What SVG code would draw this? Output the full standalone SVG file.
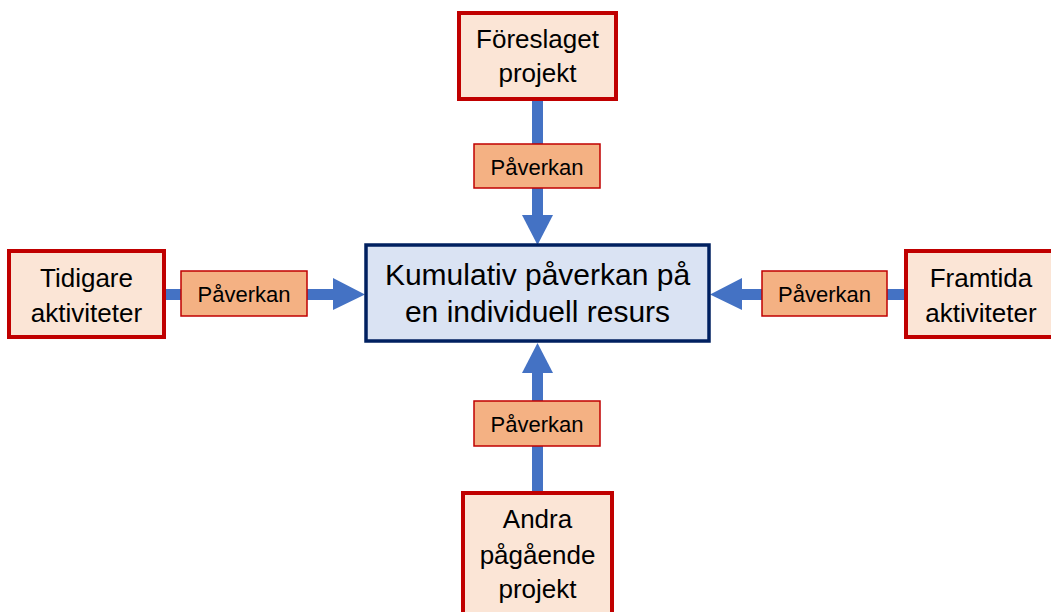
<svg xmlns="http://www.w3.org/2000/svg" width="1051" height="612" viewBox="0 0 1051 612">
  <style>
    .src rect { fill: #FBE5D6; stroke: #C00000; stroke-width: 4; }
    .lbl rect { fill: #F4B183; stroke: #C00000; stroke-width: 1.5; }
    .hub rect { fill: #DAE3F3; stroke: #002060; stroke-width: 3.5; }
    text { font-family: "Liberation Sans", Arial, sans-serif; fill: #000; text-anchor: middle; }
    .src text { font-size: 26px; }
    .lbl text { font-size: 22px; }
    .hub text { font-size: 30px; }
    .shaft { stroke: #4472C4; stroke-width: 11; fill: none; }
    .head { fill: #4472C4; }
  </style>
  <rect width="1051" height="612" fill="#fff"/>

  <!-- connectors: thick blue shafts with arrowheads into the central box -->
  <g id="connectors">
    <line class="shaft" x1="537.5" y1="100" x2="537.5" y2="216"/>
    <polygon class="head" points="522,215 553,215 537.5,245"/>
    <line class="shaft" x1="537.5" y1="492" x2="537.5" y2="372"/>
    <polygon class="head" points="522,373 553,373 537.5,343"/>
    <line class="shaft" x1="165" y1="294.5" x2="334" y2="294.5"/>
    <polygon class="head" points="333,278 333,310 365,294.5"/>
    <line class="shaft" x1="906" y1="294.5" x2="741" y2="294.5"/>
    <polygon class="head" points="742,278 742,310 710,294.5"/>
  </g>

  <g id="hub" class="hub">
    <rect x="366" y="245" width="343" height="96"/>
    <text x="537.5" y="285">Kumulativ påverkan på</text>
    <text x="537.5" y="322">en individuell resurs</text>
  </g>

  <g id="node-top" class="src">
    <rect x="459" y="13" width="157" height="86"/>
    <text x="537.5" y="48">Föreslaget</text>
    <text x="537.5" y="82">projekt</text>
  </g>
  <g id="node-left" class="src">
    <rect x="9" y="251" width="155" height="86"/>
    <text x="86.5" y="287">Tidigare</text>
    <text x="86.5" y="322">aktiviteter</text>
  </g>
  <g id="node-right" class="src">
    <rect x="906" y="251" width="152" height="86"/>
    <text x="981" y="287">Framtida</text>
    <text x="981" y="322">aktiviteter</text>
  </g>
  <g id="node-bottom" class="src">
    <rect x="463" y="493" width="149" height="130"/>
    <text x="537.5" y="528">Andra</text>
    <text x="537.5" y="564">pågående</text>
    <text x="537.5" y="598">projekt</text>
  </g>

  <g id="label-top" class="lbl">
    <rect x="474" y="144" width="126" height="44"/>
    <text x="537" y="175">Påverkan</text>
  </g>
  <g id="label-left" class="lbl">
    <rect x="181" y="271" width="126" height="45"/>
    <text x="244" y="302">Påverkan</text>
  </g>
  <g id="label-right" class="lbl">
    <rect x="762" y="271" width="125" height="45"/>
    <text x="824.5" y="302">Påverkan</text>
  </g>
  <g id="label-bottom" class="lbl">
    <rect x="474" y="401" width="126" height="45"/>
    <text x="537" y="432">Påverkan</text>
  </g>
</svg>
